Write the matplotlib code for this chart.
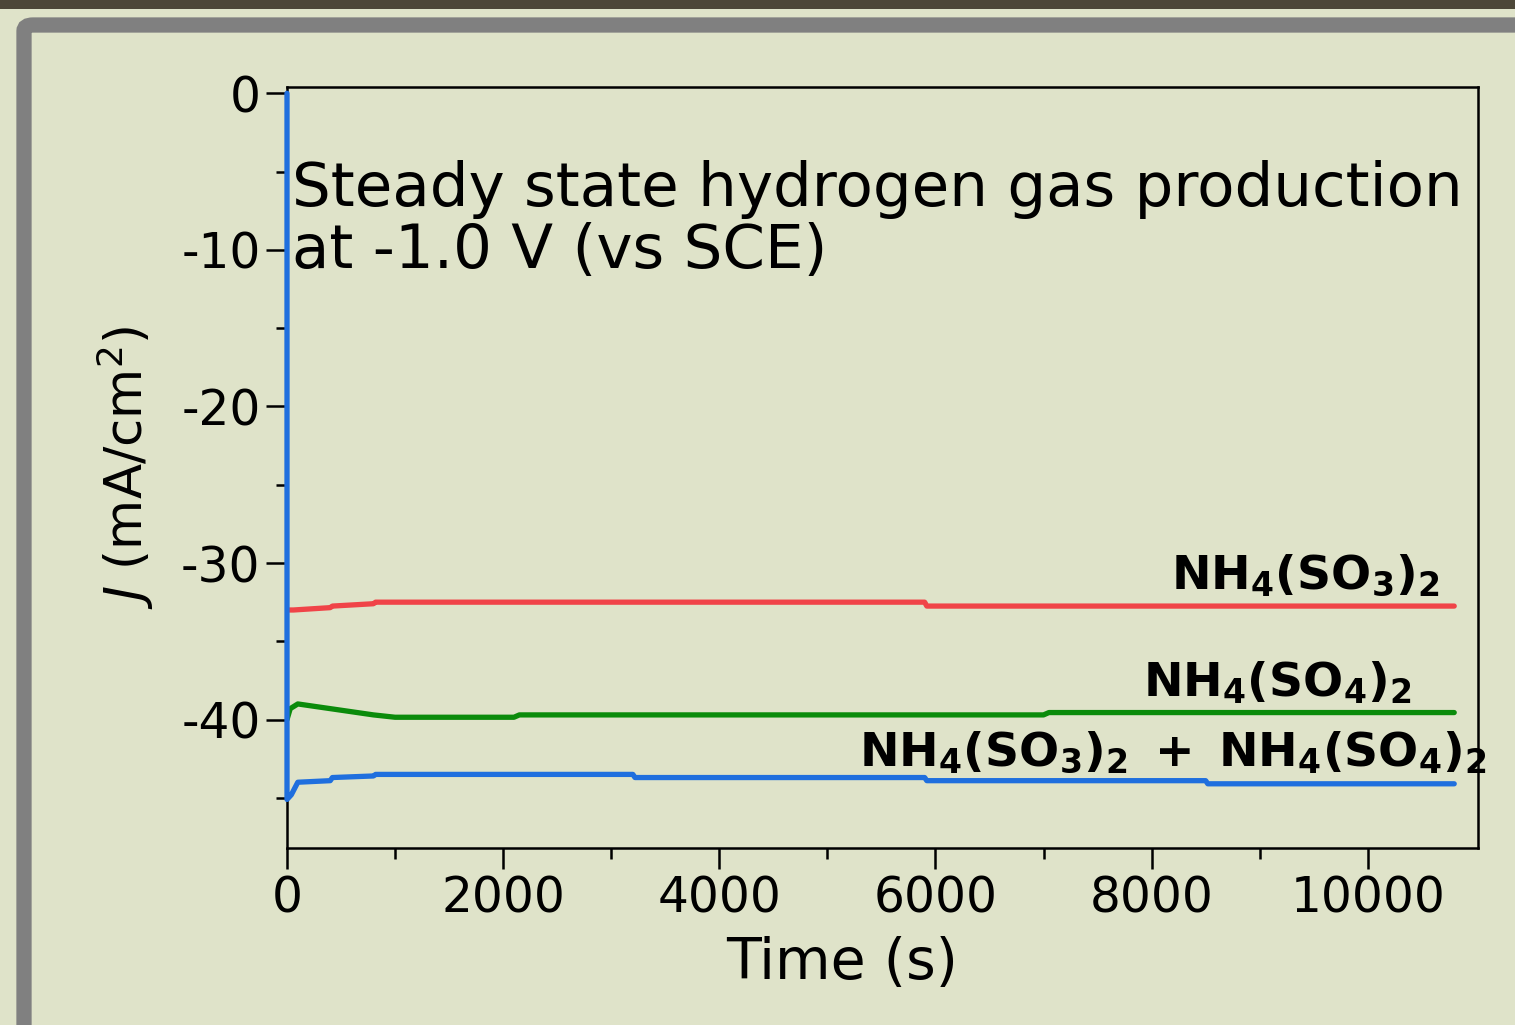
import matplotlib
matplotlib.use("Agg")
import matplotlib.pyplot as plt
from matplotlib.patches import Rectangle, FancyBboxPatch

plt.rcParams["font.family"] = ["DejaVu Sans"]
plt.rcParams["mathtext.fontset"] = "dejavusans"

# time (s) and current density (mA/cm2)
t_red = [0, 60, 400, 420, 800, 820, 5900, 5920, 10800]
j_red = [-33.0, -33.0, -32.85, -32.75, -32.6, -32.5, -32.5, -32.75, -32.75]

t_green = [0, 30, 100, 200, 400, 600, 800, 1000, 2100, 2150, 7000, 7050, 10800]
j_green = [-40.0, -39.3, -39.0, -39.1, -39.3, -39.5, -39.7, -39.85, -39.85, -39.7, -39.7, -39.55, -39.55]

t_blue = [0, 0, 40, 100, 400, 420, 800, 820, 3200, 3220, 5900, 5920, 8500, 8520, 10800]
j_blue = [0.0, -45.1, -44.8, -44.0, -43.9, -43.7, -43.6, -43.5, -43.5, -43.7, -43.7, -43.9, -43.9, -44.1, -44.1]

labels = [r"$\mathbf{NH_4(SO_3)_2}$", r"$\mathbf{NH_4(SO_4)_2}$",
          r"$\mathbf{NH_4(SO_3)_2\ +\ NH_4(SO_4)_2}$"]
title_lines = ["Steady state hydrogen gas production", "at -1.0 V (vs SCE)"]

bg = "#dfe3c9"
fig = plt.figure(figsize=(15.15, 10.25), dpi=100, facecolor=bg)

# photo strip and grey frame behind the chart
fig.patches.append(Rectangle((0, 1 - 9 / 1025), 1, 9 / 1025, transform=fig.transFigure,
                             facecolor="#4d4738", edgecolor="none", zorder=-10))
fig.patches.append(FancyBboxPatch((24 / 1515, -0.05), 1.2, 1 - 25 / 1025 + 0.05,
                                  boxstyle="round,pad=0,rounding_size=0.006",
                                  transform=fig.transFigure, facecolor=bg,
                                  edgecolor="#808080", linewidth=11, zorder=-10))

ax = fig.add_axes([287 / 1515, 1 - 848 / 1025, (1478 - 287) / 1515, (848 - 87) / 1025])
ax.set_facecolor(bg)
ax.set_zorder(5)

ax.plot(t_red, j_red, color="#f04448", lw=3.8, solid_capstyle="round")
ax.plot(t_green, j_green, color="#0b8b0b", lw=3.8, solid_capstyle="round")
ax.plot(t_blue, j_blue, color="#1f6fde", lw=3.8, solid_capstyle="round",
        clip_on=False, zorder=3)

ax.text(10666, -31.6, labels[0], fontsize=34, ha="right", va="baseline")
ax.text(10407, -38.5, labels[1], fontsize=34, ha="right", va="baseline")
ax.text(11100, -42.9, labels[2], fontsize=34, ha="right", va="baseline")

ax.text(50, -7.2, title_lines[0], fontsize=44, ha="left", va="baseline")
ax.text(50, -11.15, title_lines[1], fontsize=44, ha="left", va="baseline")

ax.set_xlim(0, 11020)
ax.set_ylim(-48.2, 0.4)
ax.set_xticks([0, 2000, 4000, 6000, 8000, 10000])
ax.set_xticks(range(1000, 11000, 2000), minor=True)
ax.set_yticks([0, -10, -20, -30, -40])
ax.set_yticks([-5, -15, -25, -35, -45], minor=True)
ax.set_yticklabels(["0", "-10", "-20", "-30", "-40"])

ax.tick_params(which="major", direction="out", length=15, width=1.8, labelsize=35, pad=4)
ax.tick_params(which="minor", direction="out", length=8, width=1.8)
for s in ax.spines.values():
    s.set_linewidth(1.8)

ax.set_xlabel("Time (s)", fontsize=41)
ax.xaxis.set_label_coords(0.466, -0.115)
ax.set_ylabel(r"$J$ (mA/cm$^2$)", fontsize=37)
ax.yaxis.set_label_coords(-0.11, 0.5)

fig.savefig("out.png", dpi=100, facecolor=bg)
